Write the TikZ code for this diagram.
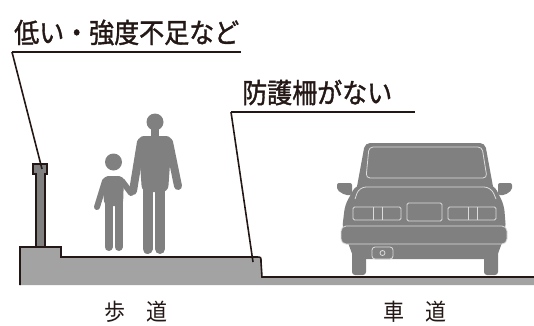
\documentclass[tikz,border=0pt]{standalone}
\usepackage{fontspec}
\usepackage{tikz}
\usetikzlibrary{positioning,calc}
\newfontfamily\jpfont{Noto Sans CJK JP}
\newfontfamily\jpheavy[FakeBold=1.4]{Noto Sans CJK JP}
\definecolor{inkline}{HTML}{231815}
\definecolor{figgray}{HTML}{808080}
\definecolor{groundgray}{HTML}{A3A3A3}
\definecolor{carline}{HTML}{DCDCDC}
\newcommand{\tallish}[1]{\scalebox{1}[1.1]{#1}}

\begin{document}
\begin{tikzpicture}[x=1pt, y=-1pt,
    outline/.style={line width=1.6pt, draw=inkline, line join=miter},
    leader/.style={line width=1.6pt, draw=inkline},
    callout/.style={font=\jpheavy\fontsize{25}{25}\selectfont, text=inkline,
                    anchor=south west, inner xsep=2pt, inner ysep=6.5pt},
    roadname/.style={font=\jpfont\fontsize{21}{21}\selectfont, text=inkline},
    limb/.style={line width=#1, draw=figgray, line cap=round},
    trim/.style={draw=carline, line width=0.8pt}]
  \useasboundingbox (0,0) rectangle (534,325);
  % Ground: raised base, sidewalk, curb and road
  \fill[groundgray] (20,285) -- (20,247) -- (61,247) -- (61,257) -- (257,257)
    .. controls (261,257) .. (261,262) -- (262,277) -- (534,277) -- (534,285) -- cycle;
  \draw[outline] (20,285) -- (20,247) -- (61,247) -- (61,257) -- (257,257)
    .. controls (261,257) .. (261,262) -- (262,277) -- (534,277);
  % Low guard post
  \draw[outline, line width=1.4pt, fill=figgray] (36,247) -- (36,174) -- (33,174) -- (33,164)
    -- (47,164) -- (47,174) -- (45,174) -- (45,247) -- cycle;
  \coordinate (postTop) at (42,169);
  \coordinate (curbEdge) at (253,262);
  % Adult
  \fill[figgray] (155,122) circle (8.5);
  \fill[figgray] (151,128) rectangle (159,138);
  \fill[figgray, rounded corners=6pt] (138,136) -- (172,136) -- (168,192) -- (142,192) -- cycle;
  \draw[limb=8pt] (169,142) -- (178,186);
  \draw[limb=8pt] (141,142) -- (133,191);
  \draw[limb=10pt] (147.5,186) -- (147.5,249);
  \draw[limb=10pt] (160,186) -- (160,249);
  % Child
  \fill[figgray] (113.5,162) circle (8.5);
  \fill[figgray, rounded corners=5pt] (103,176) -- (124,176) -- (123,206) -- (104,206) -- cycle;
  \draw[limb=6pt] (105,181) -- (97,207);
  \draw[limb=6pt] (122,181) -- (131,193);
  \draw[limb=8pt] (108.5,200) -- (108.5,247);
  \draw[limb=8pt] (118.5,200) -- (118.5,247);
  % Car seen from behind
  \begin{scope}[fill=figgray]
    \fill[rounded corners=5pt] (365,143) -- (485,143) -- (494,192) -- (356,192) -- cycle;
    \fill[rounded corners=6pt] (356,185) -- (494,185) -- (504,205) -- (506,230) -- (342,230)
      -- (345,205) -- cycle;
    \fill[rounded corners=2pt] (337,183) -- (352,183) -- (352,195) -- (345,195) -- (337,190) -- cycle;
    \fill[rounded corners=2pt] (512,183) -- (498,183) -- (498,195) -- (505,195) -- (512,190) -- cycle;
    \fill[rounded corners=4pt] (347,240) -- (503,240) -- (496,259) -- (354,259) -- cycle;
    \fill[rounded corners=3pt] (352,250) rectangle (366,275);
    \fill[rounded corners=3pt] (484,250) rectangle (498,275);
    \filldraw[trim, fill=figgray, rounded corners=5pt] (341,226) rectangle (507,244);
  \end{scope}
  % Rear window, trunk lid and lamps
  \draw[trim, rounded corners=4pt] (369,147) -- (482,147) -- (487,178) -- (366,178) -- cycle;
  \draw[trim, rounded corners=7pt] (355,199) -- (359,187) -- (491,187) -- (496,199);
  \draw[trim, rounded corners=1.5pt] (353,207) rectangle (401,220);
  \draw[trim] (373,207) -- (373,220) (382,207) -- (382,220);
  \draw[trim, rounded corners=1.5pt] (407,203) rectangle (442,221);
  \draw[trim, rounded corners=1.5pt] (448,207) rectangle (496,220);
  \draw[trim] (468,207) -- (468,220) (477,207) -- (477,220);
  \filldraw[trim, fill=figgray, rounded corners=3pt] (372,247) rectangle (393,259);
  \draw[trim] (382.5,253) circle (2.5);
  % Labels
  \node[callout] (lowlbl) at (12,52) {\tallish{低い・強度不足など}};
  \draw[leader] (lowlbl.south west) -- (lowlbl.south east);
  \draw[leader] (lowlbl.south west) -- (postTop);
  \node[callout, inner xsep=11pt] (nolbl) at (231,112) {\tallish{防護柵がない}};
  \coordinate (nolblEnd) at (415,112);
  \draw[leader] (nolbl.south west) -- (nolblEnd);
  \draw[leader] (nolbl.south west) -- (curbEdge);
  \node[roadname] (walk) at (136,312) {\tallish{歩　道}};
  \node[roadname] (road) at (415,312) {\tallish{車　道}};
\end{tikzpicture}
\end{document}
